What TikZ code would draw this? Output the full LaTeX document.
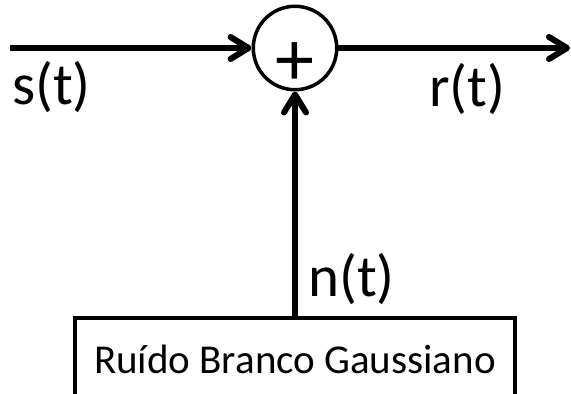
\documentclass[tikz,border=0pt]{standalone}
\usepackage{fontspec}
\setmainfont{Carlito}
\usetikzlibrary{arrows.meta, positioning}
\tikzset{
  sigarrow/.style={-{Straight Barb[length=18pt, width=22pt, round]}, line width=6pt, black},
  sumnode/.style={draw, circle, line width=3.5pt, minimum size=78pt, inner sep=0pt,
    font=\fontsize{78}{78}\selectfont, text height=74pt, text depth=0pt},
  boxnode/.style={draw, rectangle, line width=4pt, minimum width=440pt, minimum height=82pt,
    inner sep=0pt, font=\fontsize{41}{44}\selectfont},
  siglabel/.style={anchor=base west, inner sep=0pt, font=\fontsize{59}{62}\selectfont}
}
\begin{document}
\begin{tikzpicture}[x=1pt, y=-1pt]
\useasboundingbox (0,0) rectangle (571,394);
\node[sumnode] (sum) at (295,48) {+};
\node[boxnode] (noise) at (295,359) {Ruído Branco Gaussiano};
\coordinate (in) at (10,48);
\coordinate (out) at (570,48);
\node[siglabel] (s) at (12,104) {s(t)};
\node[siglabel] (r) at (429,106) {r(t)};
\node[siglabel] (n) at (308,296) {n(t)};
\draw[sigarrow] (in) -- (sum);
\draw[sigarrow] (sum) -- (out);
\draw[sigarrow] (noise) -- (sum);
\end{tikzpicture}
\end{document}
